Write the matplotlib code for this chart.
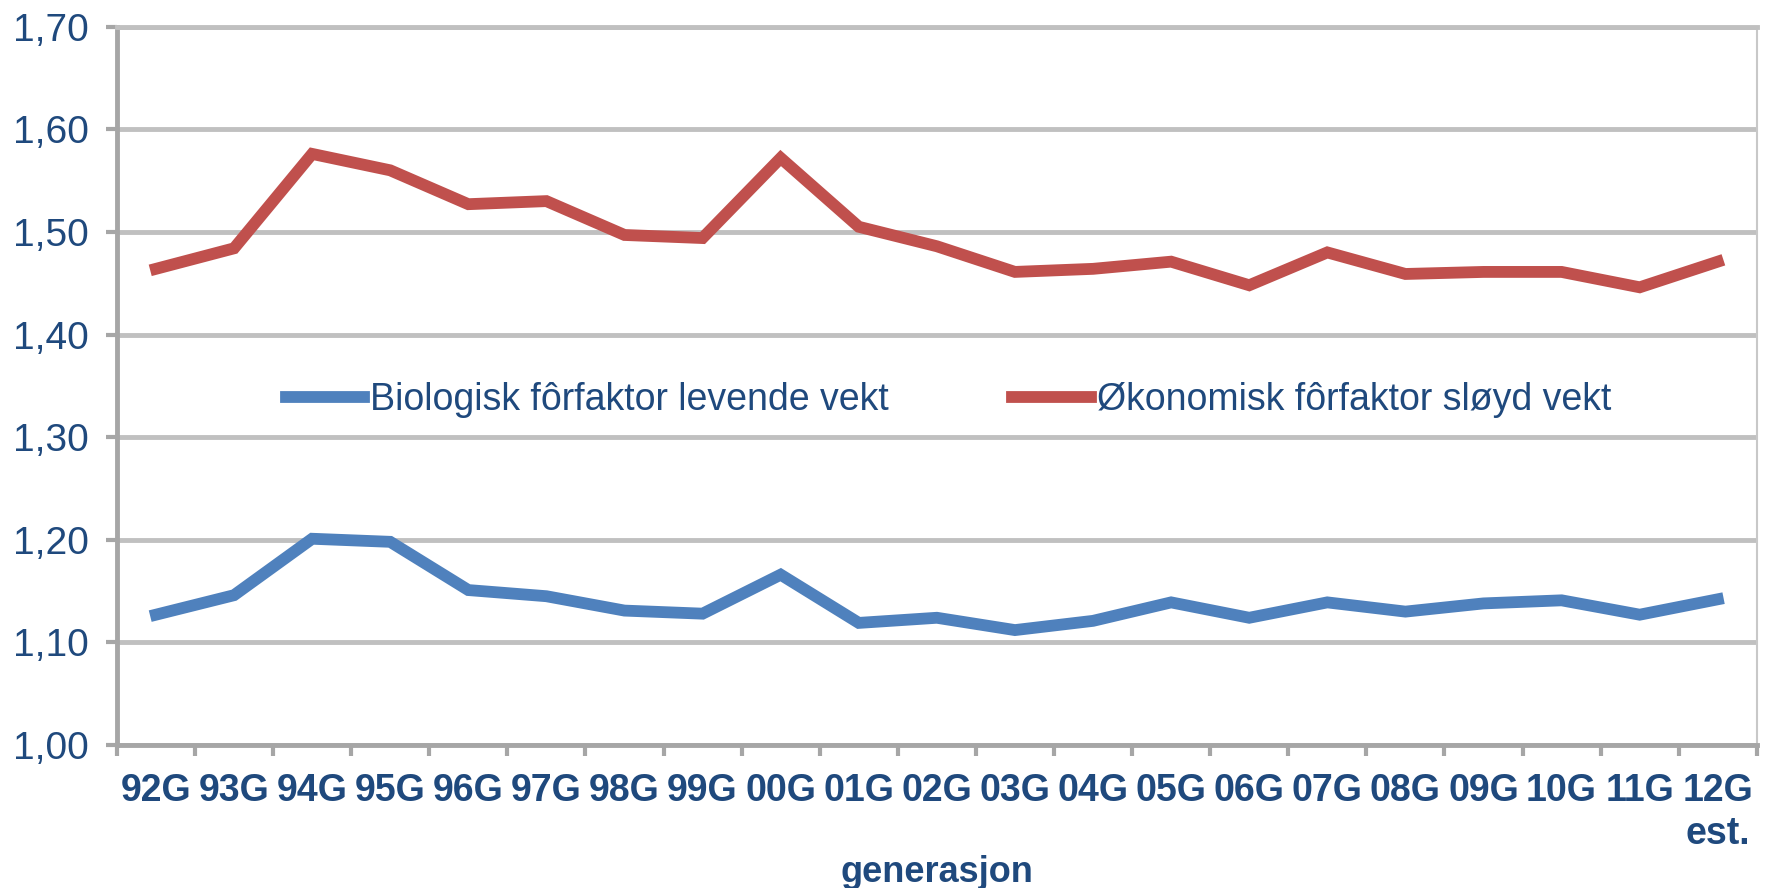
"""Forfaktor per generasjon."""
import matplotlib

matplotlib.use("Agg")
import matplotlib.pyplot as plt
from matplotlib.ticker import FixedLocator, FuncFormatter

generations = ["92G", "93G", "94G", "95G", "96G", "97G", "98G", "99G", "00G", "01G",
               "02G", "03G", "04G", "05G", "06G", "07G", "08G", "09G", "10G", "11G",
               "12G\nest."]
bio_live = [1.127, 1.146, 1.201, 1.198, 1.151, 1.145, 1.131, 1.128, 1.166, 1.119,
            1.124, 1.112, 1.121, 1.139, 1.124, 1.139, 1.130, 1.138, 1.141, 1.127,
            1.142]
eco_slaughter = [1.464, 1.484, 1.576, 1.560, 1.527, 1.530, 1.497, 1.494, 1.572, 1.505,
                 1.486, 1.461, 1.464, 1.471, 1.448, 1.480, 1.459, 1.461, 1.461, 1.446,
                 1.471]
series_names = ["Biologisk fôrfaktor levende vekt", "Økonomisk fôrfaktor sløyd vekt"]
y_ticks = [1.00, 1.10, 1.20, 1.30, 1.40, 1.50, 1.60, 1.70]

text_color = "#1F497D"
plt.rcParams["font.family"] = ["Liberation Sans", "DejaVu Sans"]

fig = plt.figure(figsize=(17.71, 8.88), dpi=100)
ax = fig.add_axes([0.066, 0.161, 0.926, 0.809])

x = list(range(len(generations)))
ax.plot(x, bio_live, color="#4F81BD", lw=8.5, solid_joinstyle="miter",
        label=series_names[0], zorder=3)
ax.plot(x, eco_slaughter, color="#C0504D", lw=8.5, solid_joinstyle="miter",
        label=series_names[1], zorder=3)

ax.set_xlim(-0.5, len(generations) - 0.5)
ax.set_ylim(1.0, 1.7)

# y axis
ax.yaxis.set_major_locator(FixedLocator(y_ticks))
ax.yaxis.set_major_formatter(FuncFormatter(lambda v, _: f"{v:.2f}".replace(".", ",")))
ax.tick_params(axis="y", direction="out", length=8, width=3, color="#A6A6A6",
               pad=12, labelsize=28, labelcolor=text_color)
ax.grid(axis="y", color="#C0C0C0", lw=3.5, zorder=1)

# x axis: ticks on category boundaries, labels in the middle
ax.xaxis.set_major_locator(FixedLocator([i - 0.5 for i in range(len(generations) + 1)]))
ax.xaxis.set_major_formatter(FuncFormatter(lambda v, _: ""))
ax.xaxis.set_minor_locator(FixedLocator(x))
ax.set_xticklabels(generations, minor=True, fontweight="bold", fontsize=27,
                   color=text_color, linespacing=1.25)
ax.tick_params(axis="x", which="major", direction="out", length=8, width=3,
               color="#A6A6A6")
ax.tick_params(axis="x", which="minor", length=0, pad=20)

for side in ("left", "bottom"):
    ax.spines[side].set_color("#A6A6A6")
    ax.spines[side].set_linewidth(3.5)
ax.spines["top"].set_color("#C0C0C0")
ax.spines["top"].set_linewidth(3.5)
ax.spines["right"].set_color("#C8C8C8")
ax.spines["right"].set_linewidth(1.5)

ax.set_xlabel("generasjon", fontsize=26, fontweight="bold", color=text_color,
              labelpad=2)

leg = ax.legend(loc="center", bbox_to_anchor=(0.507, 0.48), ncol=2, frameon=False,
                fontsize=27, handlelength=2.1, handletextpad=0.15,
                columnspacing=3.3, labelcolor=text_color)

fig.savefig("out.png", dpi=100, facecolor="white")
